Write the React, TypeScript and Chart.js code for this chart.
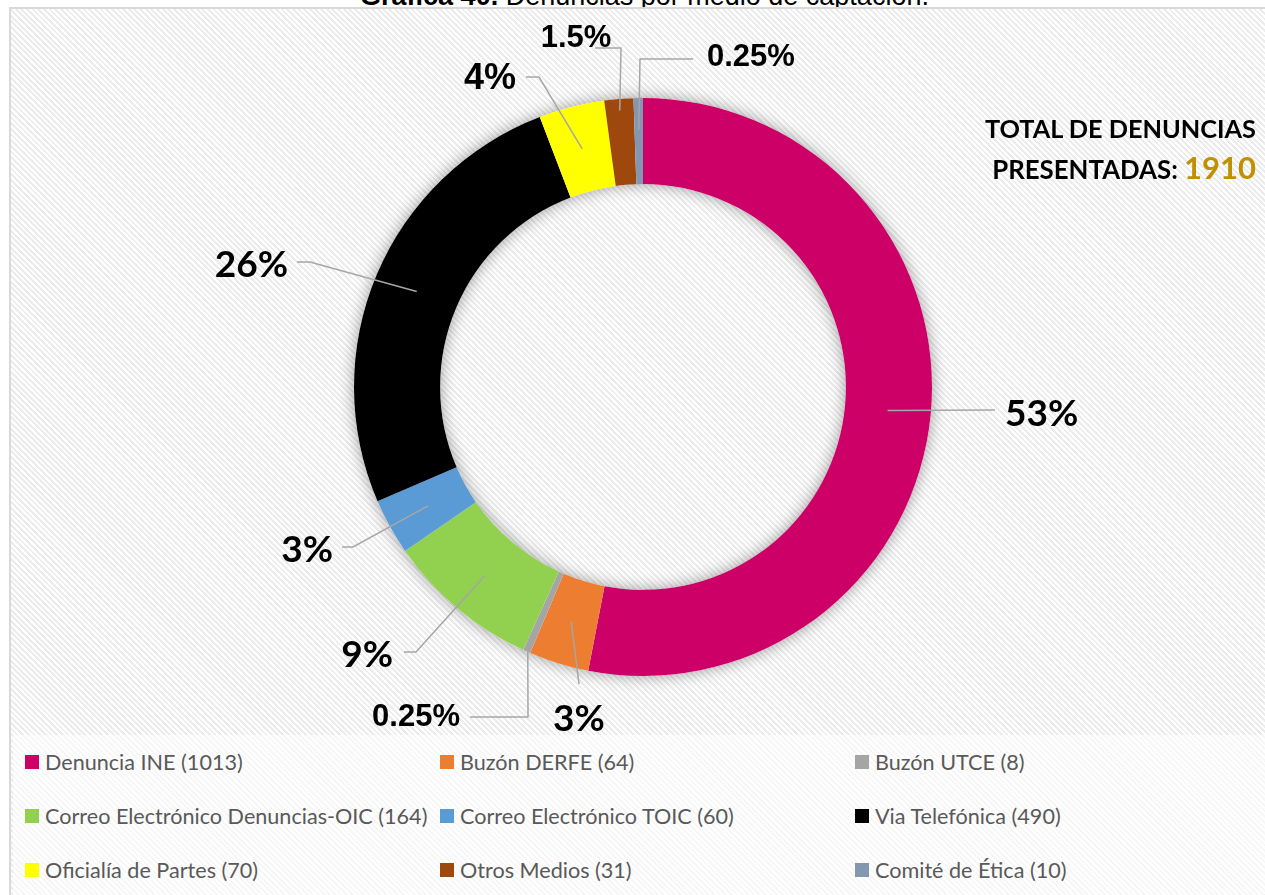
import React, { useEffect, useRef } from "react";
import { Chart, registerables } from "chart.js";

Chart.register(...registerables);

// ---- data ----
const categories = [
  "Denuncia INE",
  "Buzón DERFE",
  "Buzón UTCE",
  "Correo Electrónico Denuncias-OIC",
  "Correo Electrónico TOIC",
  "Via Telefónica",
  "Oficialía de Partes",
  "Otros Medios",
  "Comité de Ética",
];
const counts = [1013, 64, 8, 164, 60, 490, 70, 31, 10];
const percentLabels = ["53%", "3%", "0.25%", "9%", "3%", "26%", "4%", "1.5%", "0.25%"];
const colors = [
  "#CC0066",
  "#ED7D31",
  "#A5A5A5",
  "#92D050",
  "#5B9BD5",
  "#000000",
  "#FFFF00",
  "#9E480E",
  "#8497B0",
];
const titleBold = "Gráfica 40.";
const titleRest = " Denuncias por medio de captación.";
const totalLine1 = "TOTAL DE DENUNCIAS";
const totalLine2 = "PRESENTADAS:";

// ---- label layout (relative to ring centre, in units where outer radius = 289) ----
type LabelLayout = {
  r: number;
  pts: [number, number][];
  text: [number, number];
  align: CanvasTextAlign;
  font: string;
};
const REF_R = 289;
const CAL = "bold 37px Lato";
const ARI = "bold 31px 'Liberation Sans'";
const labelLayout: LabelLayout[] = [
  { r: 0.85, pts: [[352, 23]], text: [362, 27], align: "left", font: CAL },
  { r: 0.85, pts: [[-64, 297]], text: [-64, 332], align: "center", font: CAL },
  { r: 0.99, pts: [[-115, 330], [-173, 330]], text: [-183, 330], align: "right", font: ARI },
  { r: 0.85, pts: [[-227, 265], [-239, 265]], text: [-250, 268], align: "right", font: CAL },
  { r: 0.85, pts: [[-290, 160], [-301, 160]], text: [-310, 163], align: "right", font: CAL },
  { r: 0.85, pts: [[-333, -125], [-346, -125]], text: [-355, -122], align: "right", font: CAL },
  { r: 0.85, pts: [[-104, -310], [-117, -310]], text: [-127, -308], align: "right", font: "bold 36px 'Liberation Sans'" },
  { r: 0.96, pts: [[-22, -339], [-48, -339]], text: [-67, -349], align: "center", font: ARI },
  { r: 0.89, pts: [[-3, -328], [50, -328]], text: [64, -330], align: "left", font: ARI },
];

const ringShadow = {
  id: "ringShadow",
  beforeDatasetsDraw(chart: any) {
    const meta = chart.getDatasetMeta(0);
    if (!meta.data.length) return;
    const a = meta.data[0].getProps(["x", "y", "innerRadius", "outerRadius"], true);
    const ctx = chart.ctx as CanvasRenderingContext2D;
    ctx.save();
    ctx.shadowColor = "rgba(0,0,0,0.38)";
    ctx.shadowBlur = 16;
    ctx.beginPath();
    ctx.arc(a.x, a.y, a.outerRadius, 0, Math.PI * 2);
    ctx.arc(a.x, a.y, a.innerRadius, 0, Math.PI * 2, true);
    ctx.fillStyle = "#ffffff";
    ctx.fill();
    ctx.restore();
  },
};

const leaderLabels = {
  id: "leaderLabels",
  afterDatasetsDraw(chart: any) {
    const meta = chart.getDatasetMeta(0);
    const ctx = chart.ctx as CanvasRenderingContext2D;
    meta.data.forEach((el: any, i: number) => {
      const L = labelLayout[i];
      if (!L) return;
      const p = el.getProps(["x", "y", "startAngle", "endAngle", "innerRadius", "outerRadius"], true);
      const k = p.outerRadius / REF_R;
      const mid = (p.startAngle + p.endAngle) / 2;
      const rr = p.outerRadius * L.r;
      const sx = p.x + Math.cos(mid) * rr;
      const sy = p.y + Math.sin(mid) * rr;
      ctx.save();
      ctx.strokeStyle = "#A6A6A6";
      ctx.lineWidth = 1.5;
      ctx.beginPath();
      ctx.moveTo(sx, sy);
      L.pts.forEach(([dx, dy]) => ctx.lineTo(p.x + dx * k, p.y + dy * k));
      ctx.stroke();
      ctx.fillStyle = "#000000";
      ctx.font = L.font;
      ctx.textAlign = L.align;
      ctx.textBaseline = "middle";
      ctx.fillText(percentLabels[i], p.x + L.text[0] * k, p.y + L.text[1] * k);
      ctx.restore();
    });
  },
};

function DoughnutChart() {
  const ref = useRef<HTMLCanvasElement | null>(null);
  useEffect(() => {
    if (!ref.current) return;
    const chart = new Chart(ref.current, {
      type: "doughnut",
      data: {
        labels: categories,
        datasets: [
          {
            data: counts,
            backgroundColor: colors,
            borderWidth: 0,
            hoverOffset: 0,
            offset: 0,
          },
        ],
      },
      options: {
        responsive: false,
        maintainAspectRatio: false,
        animation: false,
        cutout: "70.2%",
        events: [],
        layout: { padding: { left: 354, right: 333, top: 98, bottom: 59 } },
        plugins: {
          legend: { display: false },
          tooltip: { enabled: false },
          title: { display: false },
        },
      },
      plugins: [ringShadow, leaderLabels],
    });
    return () => chart.destroy();
  }, []);
  return (
    <canvas
      ref={ref}
      width={1265}
      height={735}
      style={{ position: "absolute", left: 0, top: 0, width: 1265, height: 735, zIndex: 2 }}
    />
  );
}

export default function App() {
  useEffect(() => {
    document.body.style.overflow = "hidden";
  }, []);
  const total = counts.reduce((a, b) => a + b, 0);
  const hatch =
    "repeating-linear-gradient(45deg, #ffffff 0px, #ffffff 2px, #ececec 2px, #ececec 4px)";
  return (
    <div
      style={{
        position: "absolute",
        left: 0,
        top: 0,
        width: 1265,
        height: 895,
        overflow: "hidden",
        background: "#ffffff",
      }}
    >
      <div
        style={{
          position: "absolute",
          left: 12,
          top: -17,
          width: 1265,
          textAlign: "center",
          fontFamily: "'Liberation Sans', Arial, sans-serif",
          fontSize: 27,
          lineHeight: "27px",
          color: "#000",
          whiteSpace: "nowrap",
        }}
      >
        <b>{titleBold}</b>
        <span>{titleRest}</span>
      </div>
      <div
        style={{
          position: "absolute",
          left: 9,
          top: 7,
          width: 1300,
          height: 950,
          borderLeft: "2px solid #d9d9d9",
          borderTop: "2px solid #d9d9d9",
          background: hatch,
          zIndex: 0,
        }}
      >
        <div
          style={{
            position: "absolute",
            left: 2,
            top: 726,
            right: 0,
            bottom: 0,
            background: "rgba(255,255,255,0.6)",
          }}
        />
      </div>
      <DoughnutChart />
      <div
        style={{
          position: "absolute",
          right: 9,
          top: 110,
          textAlign: "right",
          fontFamily: "Lato, sans-serif",
          fontWeight: 700,
          color: "#000",
          zIndex: 3,
          whiteSpace: "nowrap",
        }}
      >
        <div style={{ fontSize: 25.3, lineHeight: "36px" }}>{totalLine1}</div>
        <div style={{ fontSize: 25.8, lineHeight: "42px" }}>
          {totalLine2}{" "}
          <span style={{ fontSize: 31, color: "#BF9000" }}>{total}</span>
        </div>
      </div>
      <div
        style={{
          position: "absolute",
          left: 25,
          top: 735,
          display: "grid",
          gridTemplateColumns: "415px 415px 415px",
          gridAutoRows: "54px",
          zIndex: 3,
          fontFamily: "Lato, sans-serif",
          fontSize: 21.6,
          color: "#595959",
        }}
      >
        {categories.map((c, i) => (
          <div key={c} style={{ display: "flex", alignItems: "center", whiteSpace: "nowrap" }}>
            <span
              style={{
                display: "inline-block",
                width: 14,
                height: 14,
                background: colors[i],
                marginRight: 6,
              }}
            />
            <span>{`${c} (${counts[i]})`}</span>
          </div>
        ))}
      </div>
    </div>
  );
}
